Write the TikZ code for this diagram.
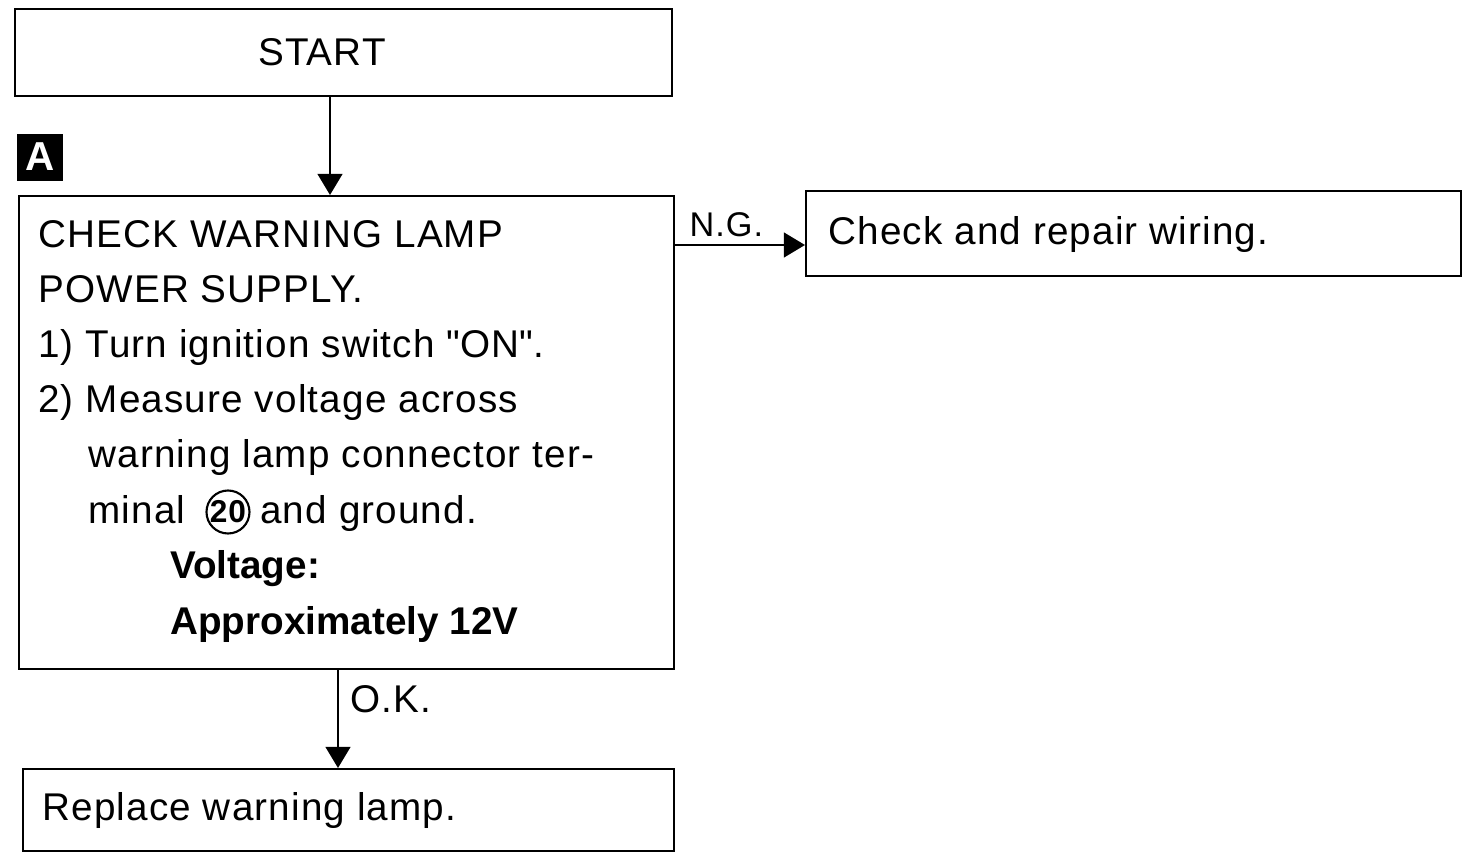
\documentclass[tikz,border=0pt]{standalone}
\usepackage{fontspec}
\setmainfont{Liberation Sans}[LetterSpace=3]
\newfontfamily\plainsans{Liberation Sans}
\usetikzlibrary{arrows.meta}
\tikzset{
  box/.style={draw, line width=1.4pt, inner sep=0pt},
  txt/.style={anchor=base west, inner sep=0pt, font=\fontsize{22}{24}\selectfont},
  btxt/.style={txt, font=\fontsize{22}{24}\plainsans\bfseries},
  conn/.style={line width=1.4pt, -{Triangle[length=12pt,width=14pt]}},
  lbl/.style={anchor=base west, inner sep=0pt, font=\fontsize{19.5}{22}\selectfont},
}
\begin{document}
\begin{tikzpicture}[x=0.02cm,y=-0.02cm]
\useasboundingbox (0,0) rectangle (1471,852);
% boxes
\node[box, minimum width=657*0.02cm, minimum height=87*0.02cm, anchor=north west] (start) at (14,8) {};
\node[box, minimum width=655*0.02cm, minimum height=473*0.02cm, anchor=north west] (check) at (18,195) {};
\node[box, minimum width=655*0.02cm, minimum height=85*0.02cm, anchor=north west] (wiring) at (805,190) {};
\node[box, minimum width=651*0.02cm, minimum height=82*0.02cm, anchor=north west] (lamp) at (22,768) {};
% A marker
\node[fill=black, text=white, minimum width=46*0.02cm, minimum height=47*0.02cm, inner sep=0pt, font=\fontsize{23}{23}\selectfont\bfseries] (mA) at (40,157) {A};
% texts
\node[txt, anchor=base] (tstart) at (322,65) {START};
\node[txt] (c1) at (38,247) {CHECK WARNING LAMP};
\node[txt] (c2) at (38,302) {POWER SUPPLY.};
\node[txt] (c3) at (38,357) {1) Turn ignition switch \textquotedbl ON\textquotedbl.};
\node[txt] (c4) at (38,412) {2) Measure voltage across};
\node[txt] (c5) at (88,467) {warning lamp connector ter-};
\node[txt] (c6) at (88,523) {minal};
\node[draw, circle, line width=1.2pt, minimum size=43*0.02cm, inner sep=0pt, font=\fontsize{18}{18}\selectfont\bfseries] (c20) at (228,512) {20};
\node[txt] (c6b) at (260,523) {and ground.};
\node[btxt] (c7) at (170,578) {Voltage:};
\node[btxt] (c8) at (170,634) {Approximately 12V};
\node[txt] (w1) at (828,244) {Check and repair wiring.};
\node[txt] (r1) at (42,820) {Replace warning lamp.};
% connectors
\draw[conn] (start.south -| 330,0) -- (check.north -| 330,0);
\draw[conn] (check.east |- 0,245) -- (wiring.west |- 0,245) node[lbl, pos=0.1, above=4pt, anchor=south west] (ng) {N.G.};
\draw[conn] (check.south -| 338,0) -- (lamp.north -| 338,0);
\node[txt] (ok) at (350,712) {O.K.};
\end{tikzpicture}
\end{document}
